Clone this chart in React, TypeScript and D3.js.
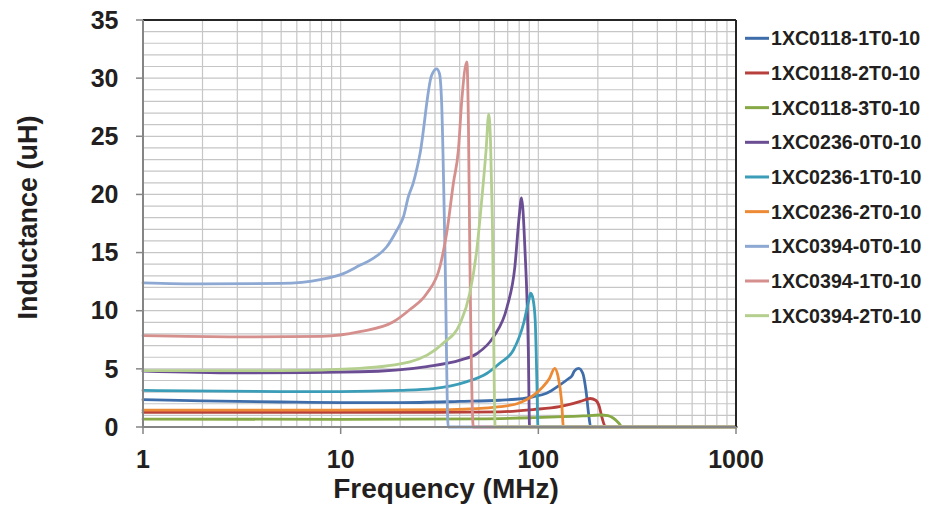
import React from "react";
import * as d3 from "d3";

const seriesNames = [
  "1XC0118-1T0-10",
  "1XC0118-2T0-10",
  "1XC0118-3T0-10",
  "1XC0236-0T0-10",
  "1XC0236-1T0-10",
  "1XC0236-2T0-10",
  "1XC0394-0T0-10",
  "1XC0394-1T0-10",
  "1XC0394-2T0-10",
];

const seriesColors = [
  "#3F6DAA",
  "#B8403C",
  "#86A845",
  "#6A4D93",
  "#3B9DB8",
  "#ED8A35",
  "#8CA8D3",
  "#D58F8D",
  "#B5CF8E",
];

// Frequencies (MHz) and inductance (uH) per series
const f1 = [1, 2, 5, 10, 20, 40, 64, 94, 110, 128, 142, 148, 152, 160, 168, 174, 180, 184, 1000];
const l1 = [2.35, 2.25, 2.15, 2.1, 2.1, 2.2, 2.3, 2.6, 2.9, 3.6, 4.15, 4.4, 4.8, 5.05, 4.6, 3.2, 1.0, 0, 0];

const f2 = [1, 5, 10, 30, 64, 94, 128, 163, 183, 195, 203, 210, 219, 1000];
const l2 = [1.25, 1.25, 1.25, 1.25, 1.3, 1.5, 1.75, 2.2, 2.45, 2.3, 1.8, 0.8, 0, 0];

const f3 = [1, 10, 50, 94, 168, 206, 225, 240, 255, 266, 1000];
const l3 = [0.68, 0.66, 0.7, 0.8, 0.95, 1.03, 0.97, 0.75, 0.35, 0, 0];

const f4 = [1, 3, 12.5, 27.3, 40.2, 48.8, 59.3, 69.4, 76.1, 80, 82.2, 85.6, 89, 90.3, 1000];
const l4 = [4.8, 4.65, 4.75, 5.2, 5.75, 6.3, 7.75, 10.3, 13.8, 18.1, 19.7, 15.2, 6.6, 0, 0];

const f5 = [1, 5, 10, 20, 29.4, 43.5, 54.8, 64, 74.7, 84.2, 89.5, 91.5, 94, 96.4, 98.3, 99.6, 1000];
const l5 = [3.15, 3.05, 3.05, 3.15, 3.3, 3.9, 4.6, 5.5, 6.6, 8.9, 10.9, 11.5, 11.0, 9.2, 4.0, 0, 0];

const f6 = [1, 10, 36, 64, 78, 94, 106, 114, 121, 126, 131, 134, 1000];
const l6 = [1.45, 1.45, 1.5, 1.75, 2.0, 2.7, 3.5, 4.2, 5.05, 4.3, 2.3, 0, 0];

const f7 = [1, 2, 5, 8, 10, 12.5, 14.6, 17.1, 19.2, 20.8, 22.0, 23.3, 25.2, 28.8, 30.6, 31.6, 32.4, 33.7, 35, 1000];
const l7 = [12.4, 12.3, 12.35, 12.7, 13.1, 13.9, 14.5, 15.5, 16.9, 18.1, 19.8, 21, 23.5, 30.2, 30.8, 30.4, 28, 15.2, 0, 0];

const f8 = [1, 3, 8, 12.5, 18.5, 22.4, 27.3, 31.8, 34.4, 37.2, 39.4, 41, 43.5, 44.3, 45, 46.9, 1000];
const l8 = [7.85, 7.75, 7.8, 8.2, 9.05, 10.1, 11.5, 13.8, 16.7, 21, 23.8, 28.1, 31.4, 26, 15.2, 0, 0];

const f9 = [1, 5, 12.5, 22.4, 33, 40.2, 45, 48.8, 51.7, 54.4, 56.1, 57.3, 58.5, 60.5, 1000];
const l9 = [4.85, 4.85, 5.05, 5.6, 7.2, 8.9, 11.5, 15.2, 19.5, 23.8, 26.9, 24.5, 18, 0, 0];

const freqs = [f1, f2, f3, f4, f5, f6, f7, f8, f9];
const values = [l1, l2, l3, l4, l5, l6, l7, l8, l9];

const xTickValues = [1, 10, 100, 1000];
const yTickValues = [0, 5, 10, 15, 20, 25, 30, 35];

const W = 932;
const H = 514;
const left = 143;
const right = 736;
const top = 20;
const bottom = 427;

const FONT = "'Liberation Sans', Arial, sans-serif";
const TEXT = "#231F20";

export default function App() {
  const x = d3.scaleLog().domain([1, 1000]).range([left, right]);
  const y = d3.scaleLinear().domain([0, 35]).range([bottom, top]);

  const minorX: number[] = [];
  [1, 10, 100].forEach((d) => {
    for (let k = 2; k <= 10; k++) minorX.push(d * k);
  });
  const minorY = d3.range(1, 35);

  const line = d3
    .line<[number, number]>()
    .x((d) => x(d[0]))
    .y((d) => y(d[1]))
    .curve(d3.curveMonotoneX);

  return (
    <svg
      width={W}
      height={H}
      style={{ position: "absolute", left: 0, top: 0, background: "#fff" }}
    >
      {/* grid */}
      {minorY.map((v) => (
        <line key={"gy" + v} x1={left} x2={right} y1={y(v)} y2={y(v)} stroke="#C6C6C6" strokeWidth={1.2} />
      ))}
      {minorX.map((v) => (
        <line key={"gx" + v} x1={x(v)} x2={x(v)} y1={top} y2={bottom} stroke="#C6C6C6" strokeWidth={1.2} />
      ))}

      {/* series */}
      {freqs.map((fs, i) => {
        const pts = fs.map((f, j) => [f, values[i][j]] as [number, number]);
        return (
          <path
            key={"s" + i}
            d={line(pts) || ""}
            fill="none"
            stroke={seriesColors[i]}
            strokeWidth={2.8}
            strokeLinejoin="round"
            strokeLinecap="round"
          />
        );
      })}

      {/* borders */}
      <line x1={left} x2={right} y1={top} y2={top} stroke="#262626" strokeWidth={2} />
      <line x1={right} x2={right} y1={top} y2={bottom} stroke="#262626" strokeWidth={2} />
      <line x1={left} x2={left} y1={top} y2={bottom + 1} stroke="#858585" strokeWidth={2} />
      <line x1={left} x2={right} y1={bottom} y2={bottom} stroke="#858585" strokeWidth={2} />

      {/* y ticks */}
      {yTickValues.map((v) => (
        <g key={"yt" + v}>
          <line x1={left - 7} x2={left} y1={y(v)} y2={y(v)} stroke="#858585" strokeWidth={1.5} />
          <text
            x={118.5}
            y={y(v)}
            dy="0.35em"
            textAnchor="end"
            fontFamily={FONT}
            fontWeight="bold"
            fontSize={25}
            fill={TEXT}
          >
            {v}
          </text>
        </g>
      ))}

      {/* x ticks */}
      {xTickValues.map((v) => (
        <g key={"xt" + v}>
          <line x1={x(v)} x2={x(v)} y1={bottom} y2={bottom + 7} stroke="#858585" strokeWidth={1.5} />
          <text
            x={x(v)}
            y={468}
            textAnchor="middle"
            fontFamily={FONT}
            fontWeight="bold"
            fontSize={25}
            fill={TEXT}
          >
            {v}
          </text>
        </g>
      ))}

      {/* axis titles */}
      <text
        x={446}
        y={498}
        textAnchor="middle"
        fontFamily={FONT}
        fontWeight="bold"
        fontSize={28}
        fill={TEXT}
      >
        Frequency (MHz)
      </text>
      <text
        transform={`translate(37, 217.5) rotate(-90)`}
        textAnchor="middle"
        fontFamily={FONT}
        fontWeight="bold"
        fontSize={27}
        fill={TEXT}
      >
        Inductance (uH)
      </text>

      {/* legend */}
      {seriesNames.map((name, i) => {
        const ly = 38.3 + i * 34.67;
        return (
          <g key={"lg" + i}>
            <line x1={745} x2={769} y1={ly} y2={ly} stroke={seriesColors[i]} strokeWidth={3} />
            <text
              x={771}
              y={ly}
              dy="0.36em"
              fontFamily={FONT}
              fontWeight="bold"
              fontSize={19.6}
              fill={TEXT}
            >
              {name}
            </text>
          </g>
        );
      })}
    </svg>
  );
}
